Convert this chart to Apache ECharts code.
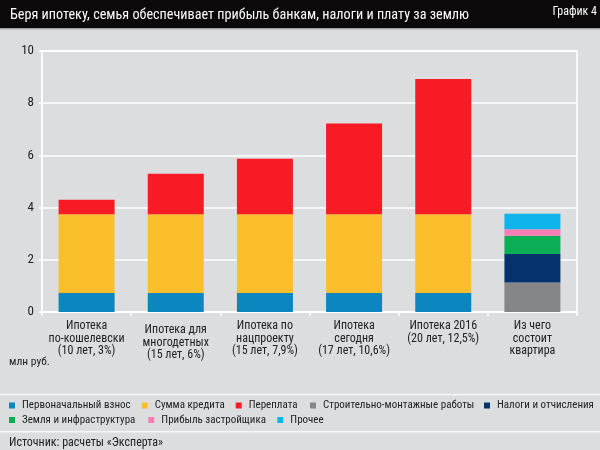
<!DOCTYPE html>
<html><head><meta charset="utf-8">
<script src="https://cdn.jsdelivr.net/npm/echarts@6/dist/echarts.min.js"></script>
<style>html,body{margin:0;padding:0;background:#dcdddf}#c{width:600px;height:450px}</style>
</head><body><div id="c"></div>
<script>
const categories = [
  "Ипотека\nпо-кошелевски\n(10 лет, 3%)",
  "Ипотека для\nмногодетных\n(15 лет, 6%)",
  "Ипотека по\nнацпроекту\n(15 лет, 7,9%)",
  "Ипотека\nсегодня\n(17 лет, 10,6%)",
  "Ипотека 2016\n(20 лет, 12,5%)",
  "Из чего\nсостоит\nквартира"
];
const seriesNames = ["Первоначальный взнос","Сумма кредита","Переплата","Строительно-монтажные работы","Налоги и отчисления","Земля и инфраструктура","Прибыль застройщика","Прочее"];
const downPayment = [0.73, 0.73, 0.73, 0.73, 0.73, '-'];
const loanAmount  = [3.02, 3.02, 3.02, 3.02, 3.02, '-'];
const overpayment = [0.55, 1.55, 2.12, 3.47, 5.18, '-'];
const construction = ['-','-','-','-','-', 1.13];
const taxes        = ['-','-','-','-','-', 1.09];
const land         = ['-','-','-','-','-', 0.70];
const devProfit    = ['-','-','-','-','-', 0.25];
const other        = ['-','-','-','-','-', 0.59];
const colors = ['#0b86bf','#fbbf2c','#f81a24','#858688','#06326e','#0bae55','#f57eb6','#0fb4ec'];
const allData = [downPayment, loanAmount, overpayment, construction, taxes, land, devProfit, other];

const FONT = '"Roboto Condensed","Liberation Sans Narrow",sans-serif';
// legend placement (layout, not data)
const legendPos = [[9,400],[141.7,400],[235.7,400],[310,400],[484,400],[9,414.5],[148.3,414.5],[277.3,414.5]];

const chart = echarts.init(document.getElementById('c'));
chart.setOption({
  backgroundColor: '#dcdddf',
  animation: false,
  textStyle: {fontFamily: FONT},
  graphic: [
    {type:'rect', shape:{x:0,y:0,width:600,height:28.5}, style:{fill:'#0b0909'}, z:-1},
    {type:'rect', shape:{x:0,y:28.5,width:600,height:1.5}, style:{fill:'#c4c5c7'}, z:-1},
    {type:'text', style:{x:10, y:15, verticalAlign:'middle', text:'Беря ипотеку, семья обеспечивает прибыль банкам, налоги и плату за землю', fill:'#ffffff', font:'14.2px '+FONT}},
    {type:'text', style:{x:597, y:12, align:'right', verticalAlign:'middle', text:'График 4', fill:'#ffffff', font:'12px '+FONT}},
    {type:'text', style:{x:9, y:362, verticalAlign:'middle', text:'млн руб.', fill:'#222', font:'11.5px '+FONT}},
    {type:'rect', shape:{x:0,y:393.8,width:600,height:1.5}, style:{fill:'#f6f6f6'}, z:-1},
    {type:'rect', shape:{x:0,y:431,width:600,height:1.5}, style:{fill:'#f6f6f6'}, z:-1},
    {type:'text', style:{x:9, y:442.7, verticalAlign:'middle', text:'Источник: расчеты «Эксперта»', fill:'#222', font:'12px '+FONT}}
  ],
  legend: seriesNames.map((n,i)=>({
    data:[n], left: legendPos[i][0], top: legendPos[i][1], padding: 0,
    itemWidth: 6, itemHeight: 6, icon: 'rect', itemGap: 0,
    textStyle:{fontSize:11, color:'#222', fontFamily: FONT, padding:[0,0,0,2]}
  })),
  grid: {left: 42, right: 23, top: 51, bottom: 138, show: true, borderColor:'#ffffff', borderWidth: 1.5},
  xAxis: {
    type: 'category',
    data: categories.map((c,i)=> i===1 ? {value:c, textStyle:{padding:[4,0,0,0]}} : c),
    axisLine: {lineStyle:{color:'#ffffff', width:1.5}},
    axisTick: {show:true, length:4, lineStyle:{color:'#ffffff', width:1.5}},
    axisLabel: {fontSize: 12, color:'#222', lineHeight: 12.5, margin: 8, interval: 0, fontFamily: FONT}
  },
  yAxis: {
    type: 'value', min: 0, max: 10, interval: 2,
    axisLine: {show:true, lineStyle:{color:'#ffffff', width:1.5}},
    axisTick: {show:true, length:3, lineStyle:{color:'#ffffff', width:1.5}},
    splitLine: {lineStyle:{color:'#ffffff', width:1.5}},
    axisLabel: {fontSize: 13, color:'#222', margin: 8, fontFamily: FONT}
  },
  series: seriesNames.map((n,i)=>({
    name: n, type: 'bar', stack: 'a', data: allData[i], barWidth: 56,
    itemStyle: {color: colors[i]}
  }))
});
</script></body></html>
